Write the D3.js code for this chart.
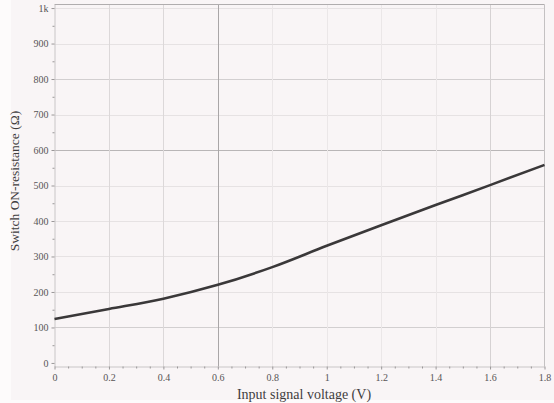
<!DOCTYPE html>
<html>
<head>
<meta charset="utf-8">
<script src="https://cdn.jsdelivr.net/npm/d3@7"></script>
<style>
  body { margin: 0; background: #fdfbfb; }
  svg { display: block; }
</style>
</head>
<body>
<div id="chart"></div>
<script>
// data
var voltage = [0, 0.2, 0.4, 0.6, 0.8, 1.0, 1.2, 1.4, 1.6, 1.8];
var resistance = [124, 152, 181, 220, 270, 330, 388, 445, 501, 558];
var xTicks = [0, 0.2, 0.4, 0.6, 0.8, 1, 1.2, 1.4, 1.6, 1.8];
var yTicks = [0, 100, 200, 300, 400, 500, 600, 700, 800, 900, 1000];

var W = 554, H = 403;
var margin = {top: 4.5, right: 9.5, bottom: 36.5, left: 54.5};

var svg = d3.select("#chart").append("svg")
    .attr("width", W)
    .attr("height", H);

// background
svg.append("rect")
    .attr("x", 11).attr("y", 0)
    .attr("width", W - 11).attr("height", 400)
    .attr("fill", "#f9f5f6");

var x = d3.scaleLinear()
    .domain([0, 1.8])
    .range([margin.left, W - margin.right]);

var y = d3.scaleLinear()
    .domain([-10, 1010])
    .range([H - margin.bottom, margin.top]);

// gridlines
var strongY = {600: "#b9b6b7", 800: "#d2cfd0", 100: "#d2cfd0"};
svg.append("g")
    .selectAll("line")
    .data(yTicks.filter(function(d) { return d > 0; }))
    .join("line")
    .attr("x1", x.range()[0]).attr("x2", x.range()[1])
    .attr("y1", function(d) { return Math.round(y(d)) + 0.5; })
    .attr("y2", function(d) { return Math.round(y(d)) + 0.5; })
    .attr("stroke", function(d) { return strongY[d] || "#e6e2e3"; })
    .attr("stroke-width", 1);

var strongX = {0.6: "#a9a6a7", 0.2: "#dcd8d9", 0.4: "#dcd8d9", 1.6: "#d6d2d3"};
svg.append("g")
    .selectAll("line")
    .data(xTicks.filter(function(d) { return d > 0 && d < 1.8; }))
    .join("line")
    .attr("y1", y.range()[0]).attr("y2", y.range()[1])
    .attr("x1", function(d) { return Math.round(x(d)) + 0.5; })
    .attr("x2", function(d) { return Math.round(x(d)) + 0.5; })
    .attr("stroke", function(d) { return strongX[d] || "#ebe7e8"; })
    .attr("stroke-width", 1);

// frame: top and right
svg.append("line")
    .attr("x1", x.range()[0]).attr("x2", x.range()[1])
    .attr("y1", y.range()[1]).attr("y2", y.range()[1])
    .attr("stroke", "#b0adae");
svg.append("line")
    .attr("x1", x.range()[1]).attr("x2", x.range()[1])
    .attr("y1", y.range()[0]).attr("y2", y.range()[1])
    .attr("stroke", "#c4c1c2");

// axes
var fmtY = function(d) { return d === 1000 ? "1k" : d; };
var yAxis = svg.append("g")
    .attr("transform", "translate(" + margin.left + ",0)")
    .call(d3.axisLeft(y).tickValues(yTicks).tickFormat(fmtY).tickSize(3).tickSizeOuter(0));
svg.append("g")
    .attr("transform", "translate(" + margin.left + ",0)")
    .call(d3.axisLeft(y).tickValues(d3.range(50, 1000, 100)).tickFormat("").tickSize(2).tickSizeOuter(0))
    .call(function(g) { g.select(".domain").remove(); });

var xAxis = svg.append("g")
    .attr("transform", "translate(0," + (H - margin.bottom) + ")")
    .call(d3.axisBottom(x).tickValues(xTicks).tickFormat(d3.format("")).tickSize(3).tickSizeOuter(0));
svg.append("g")
    .attr("transform", "translate(0," + (H - margin.bottom) + ")")
    .call(d3.axisBottom(x).tickValues(d3.range(0.05, 1.8, 0.05).filter(function(d) {
        return Math.abs(d * 5 - Math.round(d * 5)) > 0.01; })).tickFormat("").tickSize(2).tickSizeOuter(0))
    .call(function(g) { g.select(".domain").remove(); });

svg.selectAll(".domain").attr("stroke", "#c9c6c7");
svg.selectAll(".tick line").attr("stroke", "#9a9798");
svg.selectAll(".tick text")
    .attr("fill", "#575455")
    .style("font-family", "'Liberation Serif', serif")
    .style("font-size", "10px");
xAxis.selectAll(".tick text").attr("dy", "0.85em");

// the curve
var pts = voltage.map(function(v, i) { return [v, resistance[i]]; });
svg.append("path")
    .datum(pts)
    .attr("fill", "none")
    .attr("stroke", "#3a3839")
    .attr("stroke-width", 2.6)
    .attr("d", d3.line()
        .x(function(d) { return x(d[0]); })
        .y(function(d) { return y(d[1]); })
        .curve(d3.curveMonotoneX));

// titles
svg.append("text")
    .attr("x", 304)
    .attr("y", 399)
    .attr("text-anchor", "middle")
    .attr("fill", "#3f3d3e")
    .style("font-family", "'Liberation Serif', serif")
    .style("font-size", "14px")
    .text("Input signal voltage (V)");

svg.append("text")
    .attr("transform", "translate(19,181) rotate(-90)")
    .attr("text-anchor", "middle")
    .attr("fill", "#3f3d3e")
    .style("font-family", "'Liberation Serif', serif")
    .style("font-size", "13.5px")
    .text("Switch ON-resistance (Ω)");
</script>
</body>
</html>
